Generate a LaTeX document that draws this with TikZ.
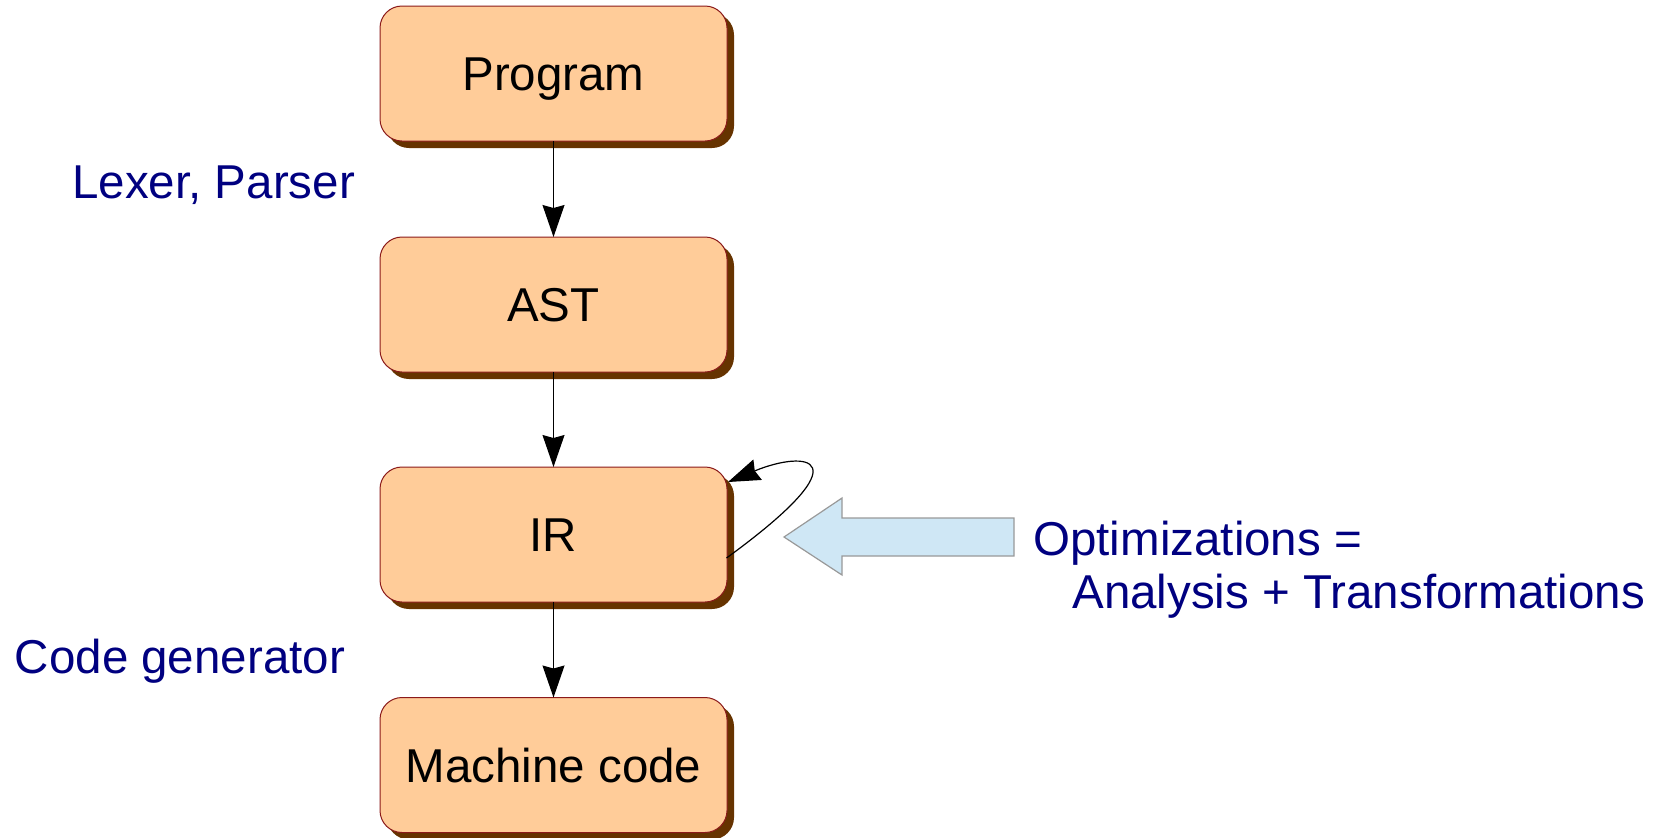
\documentclass[tikz,border=0pt]{standalone}
\usepackage{fontspec}
\setmainfont{Liberation Sans}
\usetikzlibrary{arrows.meta,shadows}

\definecolor{boxfill}{HTML}{FFCC99}
\definecolor{boxedge}{HTML}{8B1A1A}
\definecolor{boxshade}{HTML}{663300}
\definecolor{labelblue}{HTML}{000080}
\definecolor{bigarrowfill}{HTML}{CFE7F5}
\definecolor{bigarrowedge}{HTML}{999999}

\tikzset{
  stage/.style={
    draw=boxedge, line width=0.5pt, fill=boxfill,
    rounded corners=11pt,
    minimum width=173.5pt, minimum height=67.5pt,
    inner sep=0pt, outer sep=0pt,
    text height=17pt, text depth=0pt,
    drop shadow={shadow xshift=3.5pt, shadow yshift=-3.5pt,
                 fill=boxshade, opacity=1},
    font=\fontsize{23.75pt}{26.5pt}\selectfont
  },
  flow/.style={line width=0.6pt,
    -{Stealth[length=16pt, width=11pt, inset=1.5pt]}},
  phase/.style={text=labelblue, inner sep=0pt, anchor=base west,
    font=\fontsize{23.75pt}{26.5pt}\selectfont},
  bigarrow/.style={fill=bigarrowfill, draw=bigarrowedge, line width=0.6pt}
}

\begin{document}
\begin{tikzpicture}[x=0.5pt, y=-0.5pt]
  \useasboundingbox (0,0) rectangle (1665,837);

  % pipeline stages
  \node[stage] (prog) at (553.5,73.5)  {Program};
  \node[stage] (ast)  at (553.5,304.5) {AST};
  \node[stage] (ir)   at (553.5,534.5) {IR};
  \node[stage] (mc)   at (553.5,765)   {Machine code};

  % transitions between stages
  \draw[flow] (prog.south) -- (ast.north);
  \draw[flow] (ast.south) -- (ir.north);
  \draw[flow] (ir.south) -- (mc.north);

  % optimisation loop on the IR
  \coordinate (loopout) at (726.5,558);
  \coordinate (loopin)  at (728,482);
  \draw[flow] (loopout) .. controls (868,455) and (805,450) .. (loopin);

  % phase names
  \node[phase] (lexlabel) at (72,198)  {Lexer, Parser};
  \node[phase] (genlabel) at (14.5,673) {Code generator};
  \node[phase, align=left] (optlabel) at (1033,608)
    {Optimizations =\\\hspace*{19.5pt}Analysis + Transformations};

  % block arrow pointing at the IR
  \draw[bigarrow] (784,537) -- (842,498) -- (842,518) -- (1014,518)
    -- (1014,556) -- (842,556) -- (842,575) -- cycle;
\end{tikzpicture}
\end{document}
